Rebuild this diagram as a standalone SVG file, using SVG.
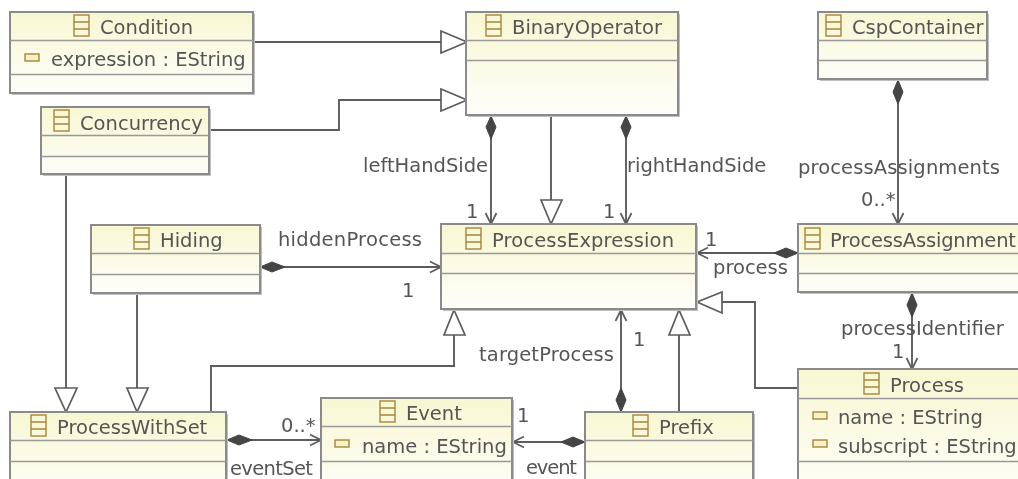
<svg xmlns="http://www.w3.org/2000/svg" width="1018" height="479" viewBox="0 0 1018 479">
<style>
text{font-family:"DejaVu Sans",sans-serif;font-size:19.5px;fill:#555}
.b{fill:url(#g);stroke:#8a8a8a;stroke-width:2}
.l{stroke:#999;stroke-width:1.5;fill:none}
.c{stroke:#5c5c5c;stroke-width:1.9;fill:none}
.h{fill:#fff;stroke:#5c5c5c;stroke-width:1.7}
.d{fill:#444;stroke:#444;stroke-width:1}
.o{stroke:#5c5c5c;stroke-width:1.7;fill:none}
.i{fill:none;stroke:#a8853a;stroke-width:1.4}
.a{fill:#f6f2c8;stroke:#a8853a;stroke-width:1.4}
.sh{fill:#c0c0c0}
</style>
<defs>
<linearGradient id="g" x1="0" y1="0" x2="0" y2="1"><stop offset="0" stop-color="#f8f7d2"/><stop offset="1" stop-color="#fefefa"/></linearGradient>
<g id="ic"><rect x="0" y="0" width="15" height="21" class="i"/><path d="M0 7H15M0 14H15" class="i"/></g>
<rect id="at" width="14" height="7" class="a"/>
<filter id="soft" x="0" y="0" width="1018" height="479" filterUnits="userSpaceOnUse" primitiveUnits="userSpaceOnUse"><feGaussianBlur stdDeviation="0.45"/></filter>
</defs>
<rect width="1018" height="479" fill="#fff"/>
<g filter="url(#soft)">
<g id="connectors">
<path class="c" d="M253 42H441"/><path class="h" d="M441 31V53L467 42Z"/>
<path class="c" d="M211 130H339V100H441"/><path class="h" d="M441 89V111L467 100Z"/>
<path class="c" d="M491 116V224"/><path class="o" d="M485.500 213L491 224L496.500 213"/><path class="d" d="M491 116L496 127L491 139L486 127Z"/>
<path class="c" d="M551 116V200"/><path class="h" d="M541 200H562L551 224Z"/>
<path class="c" d="M626 116V224"/><path class="o" d="M620.500 213L626 224L631.500 213"/><path class="d" d="M626 116L631 127L626 139L621 127Z"/>
<path class="c" d="M898 80V224"/><path class="o" d="M892.500 213L898 224L903.500 213"/><path class="d" d="M898 80L903 92L898 104L893 92Z"/>
<path class="c" d="M798 253H697"/><path class="o" d="M708 247.500L697 253L708 258.500"/><path class="d" d="M798 253L786 258L774 253L786 248Z"/>
<path class="c" d="M912 293V369"/><path class="o" d="M906.500 358L912 369L917.500 358"/><path class="d" d="M912 293L917 305L912 317L907 305Z"/>
<path class="c" d="M260 267H441"/><path class="o" d="M430 261.500L441 267L430 272.500"/><path class="d" d="M260 267L272 262L285 267L272 272Z"/>
<path class="c" d="M66 175V388"/><path class="h" d="M55 388H77L66 412Z"/>
<path class="c" d="M137 294V388"/><path class="h" d="M127 388H148L137 412Z"/>
<path class="c" d="M211 412V366H454V335"/><path class="h" d="M444 335H465L454 310Z"/>
<path class="c" d="M621 310V412"/><path class="o" d="M615.500 321L621 310L626.500 321"/><path class="d" d="M621 412L626 400L621 388L616 400Z"/>
<path class="c" d="M679 412V335"/><path class="h" d="M669 335H690L679 310Z"/>
<path class="c" d="M798 388H755V302H722"/><path class="h" d="M722 292V313L697 302Z"/>
<path class="c" d="M227 440H321"/><path class="o" d="M310 434.500L321 440L310 445.500"/><path class="d" d="M227 440L239 435L252 440L239 445Z"/>
<path class="c" d="M585 442H513"/><path class="o" d="M524 436.500L513 442L524 447.500"/><path class="d" d="M585 442L573 437L561 442L573 447Z"/>
</g>
<g id="labels">
<text x="363" y="172">leftHandSide</text>
<text x="627" y="172">rightHandSide</text>
<text x="466" y="218">1</text>
<text x="603" y="218">1</text>
<text x="705" y="246">1</text>
<text x="278" y="246" textLength="144">hiddenProcess</text>
<text x="402" y="297">1</text>
<text x="798" y="174" textLength="202">processAssignments</text>
<text x="861" y="206">0..*</text>
<text x="713" y="274">process</text>
<text x="841" y="335">processIdentifier</text>
<text x="892" y="358">1</text>
<text x="479" y="361" textLength="135">targetProcess</text>
<text x="633" y="346">1</text>
<text x="281" y="432">0..*</text>
<text x="230" y="475" textLength="83">eventSet</text>
<text x="517" y="422">1</text>
<text x="526" y="474" textLength="51">event</text>
</g>
<g id="Condition"><rect class="sh" x="12" y="14" width="243" height="81"/><rect class="b" x="10" y="12" width="243" height="81"/><path class="l" d="M10 40.500H253M10 74.500H253"/><use href="#ic" x="74" y="15"/><text x="100" y="34">Condition</text><use href="#at" x="25" y="54"/><text x="51" y="66">expression : EString</text></g>
<g id="BinaryOperator"><rect class="sh" x="468" y="14" width="212" height="103"/><rect class="b" x="466" y="12" width="212" height="103"/><path class="l" d="M466 40.500H678M466 60.500H678"/><use href="#ic" x="486" y="15"/><text x="512" y="34">BinaryOperator</text></g>
<g id="CspContainer"><rect class="sh" x="820" y="14" width="169" height="67"/><rect class="b" x="818" y="12" width="169" height="67"/><path class="l" d="M818 40.500H987M818 60.500H987"/><use href="#ic" x="826" y="15"/><text x="852" y="34">CspContainer</text></g>
<g id="Concurrency"><rect class="sh" x="43" y="109" width="168" height="67"/><rect class="b" x="41" y="107" width="168" height="67"/><path class="l" d="M41 135.500H209M41 156.500H209"/><use href="#ic" x="54" y="110"/><text x="80" y="130">Concurrency</text></g>
<g id="Hiding"><rect class="sh" x="93" y="227" width="169" height="68"/><rect class="b" x="91" y="225" width="169" height="68"/><path class="l" d="M91 253.500H260M91 274.500H260"/><use href="#ic" x="134" y="228"/><text x="160" y="247">Hiding</text></g>
<g id="ProcessExpression"><rect class="sh" x="443" y="226" width="255" height="85"/><rect class="b" x="441" y="224" width="255" height="85"/><path class="l" d="M441 253.500H696M441 273.500H696"/><use href="#ic" x="466" y="228"/><text x="492" y="247" textLength="182">ProcessExpression</text></g>
<g id="ProcessAssignment"><rect class="sh" x="800" y="226" width="240" height="68"/><rect class="b" x="798" y="224" width="240" height="68"/><path class="l" d="M798 253.500H1018M798 273.500H1018"/><use href="#ic" x="805" y="228"/><text x="830" y="247" textLength="186">ProcessAssignment</text></g>
<g id="Process"><rect class="sh" x="800" y="371" width="240" height="130"/><rect class="b" x="798" y="369" width="240" height="130"/><path class="l" d="M798 398.500H1018M798 461.500H1018"/><use href="#ic" x="864" y="373"/><text x="890" y="392">Process</text><use href="#at" x="813" y="412"/><text x="838" y="424">name : EString</text><use href="#at" x="813" y="440"/><text x="838" y="453">subscript : EString</text></g>
<g id="ProcessWithSet"><rect class="sh" x="12" y="414" width="216" height="87"/><rect class="b" x="10" y="412" width="216" height="87"/><path class="l" d="M10 440.500H226M10 461.500H226"/><use href="#ic" x="31" y="415"/><text x="57" y="434">ProcessWithSet</text></g>
<g id="Event"><rect class="sh" x="323" y="400" width="191" height="101"/><rect class="b" x="321" y="398" width="191" height="101"/><path class="l" d="M321 426.500H512M321 461.500H512"/><use href="#ic" x="380" y="401"/><text x="406" y="420">Event</text><use href="#at" x="335" y="440"/><text x="362" y="453">name : EString</text></g>
<g id="Prefix"><rect class="sh" x="587" y="414" width="168" height="87"/><rect class="b" x="585" y="412" width="168" height="87"/><path class="l" d="M585 440.500H753M585 461.500H753"/><use href="#ic" x="633" y="415"/><text x="659" y="434">Prefix</text></g>
</g>
</svg>
